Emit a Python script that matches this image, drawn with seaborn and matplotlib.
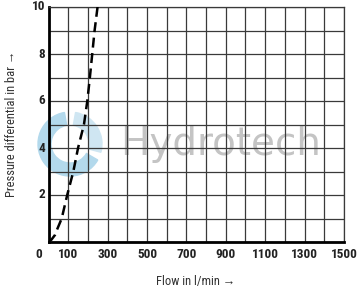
import matplotlib
matplotlib.use("Agg")
import matplotlib.pyplot as plt
import matplotlib.transforms as mtransforms
from matplotlib.patches import Wedge
import seaborn as sns
import pandas as pd

# Data
flow = [0, 15, 33, 42, 67, 95, 126, 150, 180, 197, 210, 222, 234, 249]
pressure = [0, 0.1, 0.3, 0.5, 1, 2, 3, 4, 5, 6, 7, 8, 9, 10]
x_ticks = [0, 100, 300, 500, 700, 900, 1100, 1300, 1500]
x_tick_labels = ["0", "100", "300", "500", "700", "900", "1100", "1300", "1500"]
y_ticks = [2, 4, 6, 8, 10]
y_tick_labels = ["2", "4", "6", "8", "10"]
x_label = "Flow in l/min \u2192"
y_label = "Pressure differential in bar \u2192"
watermark = "Hydrotech"

sns.set_style("white")
FAM = ["Liberation Sans Narrow", "Roboto Condensed", "Open Sans Condensed",
       "Liberation Sans", "DejaVu Sans"]
plt.rcParams["font.family"] = FAM

df = pd.DataFrame({"flow": flow, "pressure": pressure})

fig = plt.figure(figsize=(3.58, 2.90), dpi=100)
ax = fig.add_axes([48.5 / 358, 1 - 242 / 290, (344 - 48.5) / 358, (242 - 7) / 290])
ax.set_facecolor("none")

sns.lineplot(data=df, x="flow", y="pressure", ax=ax, color="black",
             linewidth=1.8, sort=False, zorder=5)
ax.lines[0].set_linestyle((0, (4, 2.2)))

ax.set_xlim(0, 1500)
ax.set_ylim(0, 10)
ax.set_xticks(range(0, 1501, 100))
ax.set_yticks(range(0, 11, 1))
ax.grid(True, color="#3a3a3a", linewidth=0.9)
ax.set_xticklabels([])
ax.set_yticklabels([])
ax.tick_params(length=0)

for xv, lab in zip(x_ticks, x_tick_labels):
    ax.text(xv, 0, lab, ha="center", va="top", fontsize=9.5, fontweight="bold",
            color="#222222",
            transform=ax.get_xaxis_transform() + mtransforms.ScaledTranslation(
                (-0.095 if xv == 0 else 0), -0.055, fig.dpi_scale_trans))
for yv, lab in zip(y_ticks, y_tick_labels):
    ax.text(0, yv, lab, ha="right", va="center", fontsize=9.5, fontweight="bold",
            color="#222222",
            transform=ax.get_yaxis_transform() + mtransforms.ScaledTranslation(
                -0.035, 0, fig.dpi_scale_trans))

for s in ["top", "right"]:
    ax.spines[s].set_color("#3a3a3a")
    ax.spines[s].set_linewidth(0.9)
for s in ["left", "bottom"]:
    ax.spines[s].set_color("black")
    ax.spines[s].set_linewidth(2.0)

ax.set_xlabel("")
ax.set_ylabel("")
fig.text(196 / 358, 1 - 282 / 290, x_label, ha="center", va="center",
         fontsize=9, color="#333333")
fig.text(12 / 358, 1 - 124 / 290, y_label, ha="center", va="center",
         rotation=90, fontsize=9, color="#333333")

# watermark (drawn beneath the axes so grid and labels stay on top)
fig.text(221 / 358, 1 - 144 / 290, watermark, ha="center", va="center",
         fontsize=28, color="#c4c4c4", family="DejaVu Sans", zorder=-1)
px = mtransforms.IdentityTransform()
ring1 = Wedge((70, 290 - 144), 32, 100, 330, width=13,
              transform=px, color="#b3d9ec", zorder=-1)
ring2 = Wedge((70, 290 - 144), 32, 345, 80, width=13,
              transform=px, color="#cfe6f2", zorder=-1)
fig.patches.extend([ring1, ring2])

fig.savefig("out.png", dpi=100)
